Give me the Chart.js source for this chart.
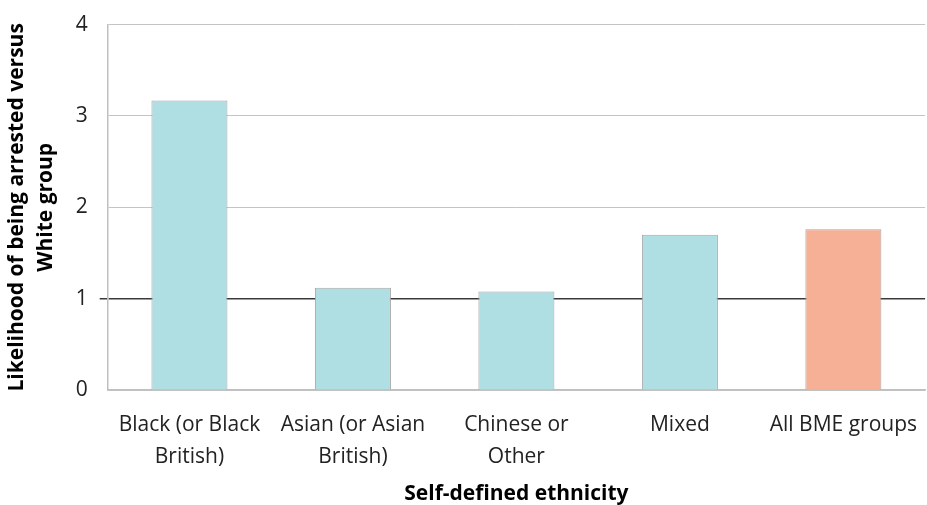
<!DOCTYPE html>
<html>
<head>
<meta charset="utf-8">
<script src="https://cdn.jsdelivr.net/npm/chart.js@4"></script>
<style>
  html, body { margin: 0; padding: 0; background: #ffffff; }
  #wrap { width: 927px; height: 505px; }
</style>
</head>
<body>
<div id="wrap"><canvas id="arrestChart" width="927" height="505"></canvas></div>
<script>
// Data
const categories = [
    ['Black (or Black', 'British)'],
    ['Asian (or Asian', 'British)'],
    ['Chinese or', 'Other'],
    'Mixed',
    'All BME groups'
];
const likelihood = [3.17, 1.12, 1.08, 1.70, 1.76];
const barColors = ['#afdee3', '#afdee3', '#afdee3', '#afdee3', '#f6b096'];
const yTicks = [0, 1, 2, 3, 4];

const font = 'Open Sans';

const ctx = document.getElementById('arrestChart').getContext('2d');
new Chart(ctx, {
    type: 'bar',
    data: {
        labels: categories,
        datasets: [{
            data: likelihood,
            backgroundColor: barColors,
            borderColor: '#a6a6a6',
            borderWidth: 1,
            categoryPercentage: 1,
            barPercentage: 0.465
        }]
    },
    options: {
        responsive: false,
        animation: false,
        layout: { padding: { top: 11, right: 0, left: 3, bottom: 0 } },
        plugins: {
            legend: { display: false },
            tooltip: { enabled: false }
        },
        scales: {
            x: {
                grid: { display: false },
                border: { display: true, color: '#bfbfbf', width: 1.5 },
                ticks: {
                    color: '#222222',
                    font: { family: font, size: 21, lineHeight: 1.57 },
                    padding: 10,
                    maxRotation: 0,
                    autoSkip: false
                },
                title: {
                    display: true,
                    text: 'Self-defined ethnicity',
                    color: '#000000',
                    font: { family: font, size: 21, weight: 'bold', lineHeight: 1.0 },
                    padding: { top: 0, bottom: 0 }
                }
            },
            y: {
                min: 0,
                max: 4,
                afterBuildTicks: axis => { axis.ticks = yTicks.map(v => ({ value: v })); },
                grid: {
                    color: c => c.tick && c.tick.value === 1 ? '#3a3a3a' : '#c4c4c4',
                    lineWidth: c => c.tick && c.tick.value === 1 ? 1.5 : 1,
                    tickColor: c => c.tick && c.tick.value === 1 ? '#3a3a3a' : 'rgba(0,0,0,0)',
                    tickLength: 8,
                    drawTicks: true
                },
                border: { display: true, color: '#bfbfbf', width: 1.5 },
                ticks: {
                    color: '#222222',
                    font: { family: font, size: 21 },
                    padding: 12
                },
                title: {
                    display: true,
                    text: ['Likelihood of being arrested versus', 'White group'],
                    color: '#000000',
                    font: { family: font, size: 21, weight: 'bold', lineHeight: 1.35 },
                    padding: { top: 0, bottom: 4 }
                }
            }
        }
    }
});
</script>
</body>
</html>
